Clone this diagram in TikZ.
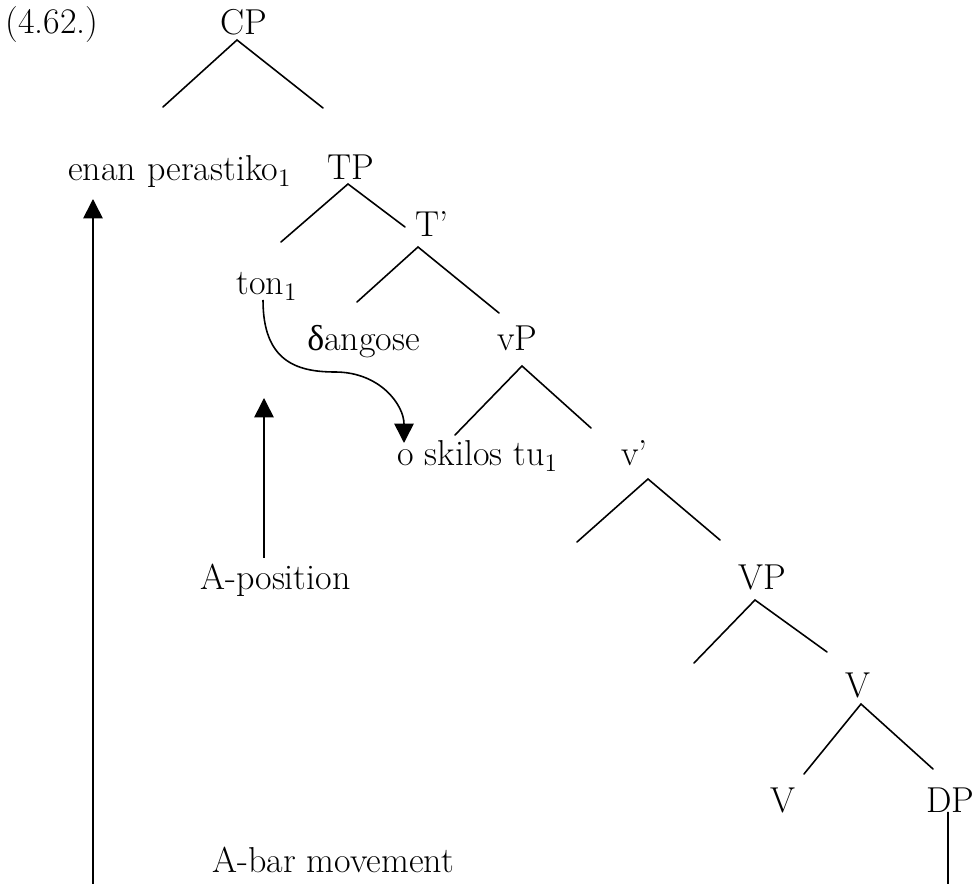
\documentclass[tikz,border=0pt]{standalone}
\usepackage{fontspec}
\newfontfamily\grk{Liberation Serif}
\usepackage{tikz}
\usetikzlibrary{arrows.meta, calc}

\begin{document}
\begin{tikzpicture}[
  x=0.02cm, y=-0.02cm,
  lab/.style={anchor=base west, inner sep=0pt, font=\fontsize{20.5}{24}\selectfont},
  branch/.style={line width=0.9pt, line cap=round},
  move/.style={line width=0.9pt, -{Triangle[length=11pt,width=11pt]}},
]
\useasboundingbox (0,0) rectangle (974,884);

% labels of the tree
\node[lab] (num)    at (5,34)    {(4.62.)};
\node[lab] (cp)     at (220,35)  {CP};
\node[lab] (enan)   at (68,181)  {enan perastiko\textsubscript{1}};
\node[lab] (tp)     at (327,180) {TP};
\node[lab] (tbar)   at (415,237) {T’};
\node[lab] (ton)    at (236,295) {ton\textsubscript{1}};
\node[lab] (dang)   at (307,351) {{\grk δ}angose};
\node[lab] (vp)     at (497,351) {vP};
\node[lab] (skilos) at (397,466) {o skilos tu\textsubscript{1}};
\node[lab] (vbar)   at (621,466) {v’};
\node[lab] (apos)   at (200,590) {A-position};
\node[lab] (bigvp)  at (738,590) {VP};
\node[lab] (vtop)   at (845,698) {V};
\node[lab] (vlow)   at (770,813) {V};
\node[lab] (dp)     at (926,813) {DP};
\node[lab] (abar)   at (212,872) {A-bar movement};

% branch points
\coordinate (cpA) at (237,40);  \coordinate (cpL) at (163,107); \coordinate (cpR) at (323,108);
\coordinate (tpA) at (348,184); \coordinate (tpL) at (281,242); \coordinate (tpR) at (405,227);
\coordinate (tbA) at (418,247); \coordinate (tbL) at (357,302); \coordinate (tbR) at (499,313);
\coordinate (vpA) at (522,366); \coordinate (vpL) at (455,435); \coordinate (vpR) at (591,428);
\coordinate (vbA) at (648,479); \coordinate (vbL) at (577,542); \coordinate (vbR) at (720,540);
\coordinate (bvA) at (755,600); \coordinate (bvL) at (694,663); \coordinate (bvR) at (827,652);
\coordinate (vtA) at (861,704); \coordinate (vtL) at (804,774); \coordinate (vtR) at (933,769);

% branches
\foreach \n in {cp,tp,tb,vp,vb,bv,vt}{
  \draw[branch] (\n L) -- (\n A) -- (\n R);
}
\coordinate (dpEnd) at (948,884);
\draw[branch] (dp.south -| dpEnd) ++(0,-1) -- (dpEnd);

% movement arrows
\coordinate (abarFoot) at (93,884);
\draw[move] (abarFoot) -- (abarFoot |- 0,199);
\draw[move] (264,558) -- (264,398);
\draw[move] (263,300) .. controls (263,360) and (295,372) .. (335,372)
            .. controls (380,372) and (404,405) .. (404,443);

\end{tikzpicture}
\end{document}
